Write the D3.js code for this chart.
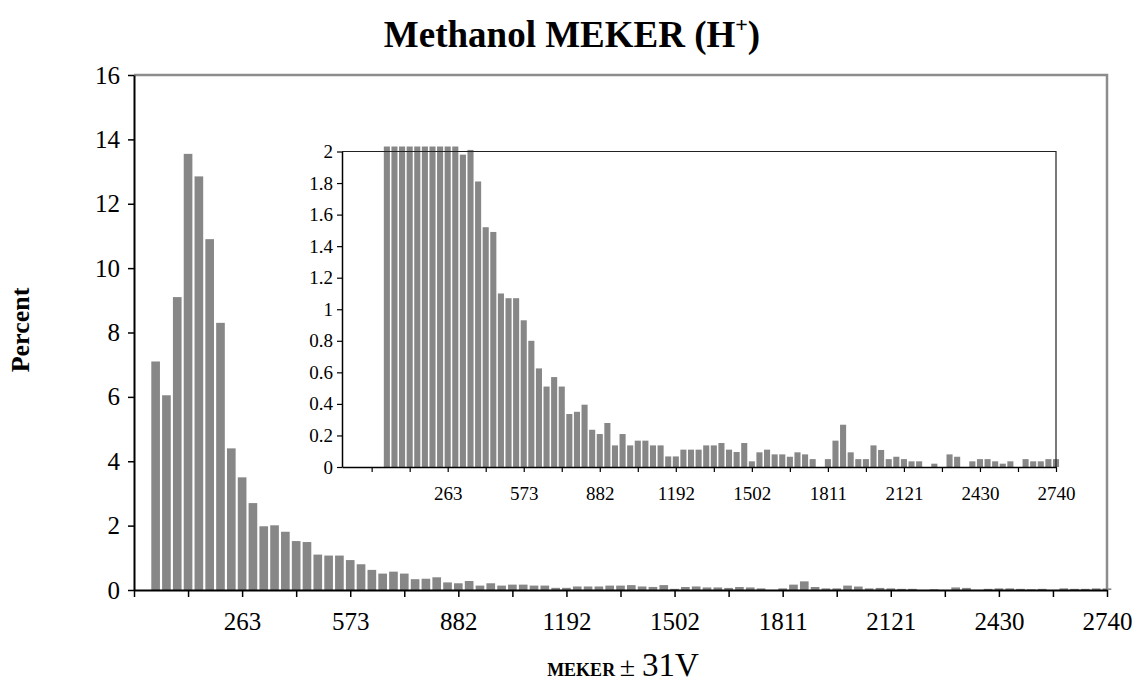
<!DOCTYPE html>
<html>
<head>
<meta charset="utf-8">
<script src="https://cdnjs.cloudflare.com/ajax/libs/d3/7.8.5/d3.min.js"></script>
<style>
body { margin: 0; background: #fff; }
svg text { font-family: "Liberation Serif", "Times New Roman", serif; fill: #000; }
</style>
</head>
<body>
<svg class="chart" width="1137" height="685"></svg>
<script>
// percent of ions per MEKER bin; bins are category slots, first bar sits in slot 2
var firstBin = 2;
var percent = [
  7.1, 6.05, 9.1, 13.55, 12.85, 10.9, 8.3, 4.4, 3.5, 2.7,
  1.98, 2.01, 1.81, 1.52, 1.49, 1.10, 1.07, 1.07, 0.93, 0.80,
  0.625, 0.51, 0.57, 0.51, 0.336, 0.35, 0.395, 0.236, 0.209, 0.279,
  0.137, 0.209, 0.137, 0.167, 0.167, 0.137, 0.137, 0.067, 0.067, 0.11,
  0.11, 0.11, 0.137, 0.137, 0.152, 0.11, 0.095, 0.152, 0.036, 0.093,
  0.11, 0.08, 0.08, 0.065, 0.093, 0.08, 0.05, 0, 0.05, 0.167,
  0.268, 0.093, 0.05, 0.05, 0.137, 0.108, 0.05, 0.065, 0.05, 0.036,
  0.036, 0, 0.021, 0, 0.08, 0.065, 0, 0.036, 0.05, 0.05,
  0.036, 0.021, 0.036, 0, 0.05, 0.036, 0.036, 0.05, 0.05
];

var tickBins = [0, 5, 10, 15, 20, 25, 30, 35, 40, 45, 50, 55, 60, 65, 70, 75, 80, 85, 90];
var labelBins = [10, 20, 30, 40, 50, 60, 70, 80, 90];
var tickLabels = ['263', '573', '882', '1192', '1502', '1811', '2121', '2430', '2740'];
var mainTicks = [0, 2, 4, 6, 8, 10, 12, 14, 16];
var insetTicks = [0, 0.2, 0.4, 0.6, 0.8, 1, 1.2, 1.4, 1.6, 1.8, 2];

var barColor = '#878787';

var bars = percent.map(function(v, i) { return {bin: firstBin + i, value: v}; });

var svg = d3.select('.chart');

function binLabel(d) {
  var i = labelBins.indexOf(d);
  return i < 0 ? '' : tickLabels[i];
}

// ---- main chart ----
var x = d3.scaleLinear().domain([0, 90]).range([134, 1107]);
var y = d3.scaleLinear().domain([0, 16]).range([590, 75]);
var pitch = x(1) - x(0);

svg.append('g').selectAll('rect')
  .data(bars.filter(function(d) { return d.value > 0; }))
  .enter().append('rect')
  .attr('x', function(d) { return x(d.bin) - pitch * 0.4; })
  .attr('y', function(d) { return y(d.value); })
  .attr('width', pitch * 0.8)
  .attr('height', function(d) { return y(0) - y(d.value); })
  .attr('fill', barColor);

// grey frame on top and right
svg.append('path')
  .attr('d', 'M' + x(0) + ',' + y(16) + 'H' + x(90) + 'V' + y(0))
  .attr('fill', 'none')
  .attr('stroke', '#8c8c8c')
  .attr('stroke-width', 2.5);

var yAxis = svg.append('g')
  .attr('transform', 'translate(' + x(0) + ',0)')
  .call(d3.axisLeft(y).tickValues(mainTicks).tickSize(6).tickSizeOuter(0).tickPadding(8));

var xAxis = svg.append('g')
  .attr('transform', 'translate(0,' + y(0) + ')')
  .call(d3.axisBottom(x).tickValues(tickBins).tickFormat(binLabel).tickSize(7).tickSizeOuter(0).tickPadding(15));

[yAxis, xAxis].forEach(function(g) {
  g.selectAll('text').style('font-size', '25px').style('font-family', '"Liberation Serif", serif');
  g.select('.domain').attr('stroke', '#000').attr('stroke-width', 2);
  g.selectAll('.tick line').attr('stroke', '#000').attr('stroke-width', 1.5);
});

// ---- inset chart ----
var ix = d3.scaleLinear().domain([-3.9, 90]).range([342, 1056]);
var iy = d3.scaleLinear().domain([0, 2]).range([467, 151.5]);
var ipitch = ix(1) - ix(0);

svg.append('rect')
  .attr('x', ix(-3.9)).attr('y', iy(2))
  .attr('width', ix(90) - ix(-3.9)).attr('height', iy(0) - iy(2))
  .attr('fill', '#fff');

svg.append('g').selectAll('rect')
  .data(bars.filter(function(d) { return d.value > 0; }))
  .enter().append('rect')
  .attr('x', function(d) { return ix(d.bin) - ipitch * 0.4; })
  .attr('y', function(d) { return Math.max(iy(d.value), iy(2) - 5); })
  .attr('width', ipitch * 0.8)
  .attr('height', function(d) { return iy(0) - Math.max(iy(d.value), iy(2) - 5); })
  .attr('fill', barColor);

svg.append('path')
  .attr('d', 'M' + ix(-3.9) + ',' + iy(2) + 'H' + ix(90) + 'V' + iy(0))
  .attr('fill', 'none')
  .attr('stroke', '#222')
  .attr('stroke-width', 1.2);

var iyAxis = svg.append('g')
  .attr('transform', 'translate(' + ix(-3.9) + ',0)')
  .call(d3.axisLeft(iy).tickValues(insetTicks).tickFormat(d3.format('~g')).tickSize(5).tickSizeOuter(0).tickPadding(4));

var ixAxis = svg.append('g')
  .attr('transform', 'translate(0,' + iy(0) + ')')
  .call(d3.axisBottom(ix).tickValues(tickBins).tickFormat(binLabel).tickSize(5).tickSizeOuter(0).tickPadding(15));

[iyAxis, ixAxis].forEach(function(g) {
  g.selectAll('text').style('font-size', '19px').style('font-family', '"Liberation Serif", serif');
  g.select('.domain').attr('stroke', '#000').attr('stroke-width', 1.5);
  g.selectAll('.tick line').attr('stroke', '#000').attr('stroke-width', 1.2);
});

// ---- titles ----
var title = svg.append('text')
  .attr('x', 572).attr('y', 47)
  .attr('text-anchor', 'middle')
  .style('font-size', '37px')
  .style('font-weight', 'bold');
title.append('tspan').text('Methanol MEKER (H');
title.append('tspan').attr('dy', -15).style('font-size', '22px').text('+');
title.append('tspan').attr('dy', 15).text(')');

svg.append('text')
  .attr('transform', 'translate(29,330) rotate(-90)')
  .attr('text-anchor', 'middle')
  .style('font-size', '26px')
  .style('font-weight', 'bold')
  .text('Percent');

var xTitle = svg.append('text')
  .attr('x', 623).attr('y', 676)
  .attr('text-anchor', 'middle');
xTitle.append('tspan').style('font-size', '18px').style('font-weight', 'bold').text('MEKER ');
xTitle.append('tspan').style('font-size', '28px').text('± ');
xTitle.append('tspan').style('font-size', '33px').text('31V');
</script>
</body>
</html>
